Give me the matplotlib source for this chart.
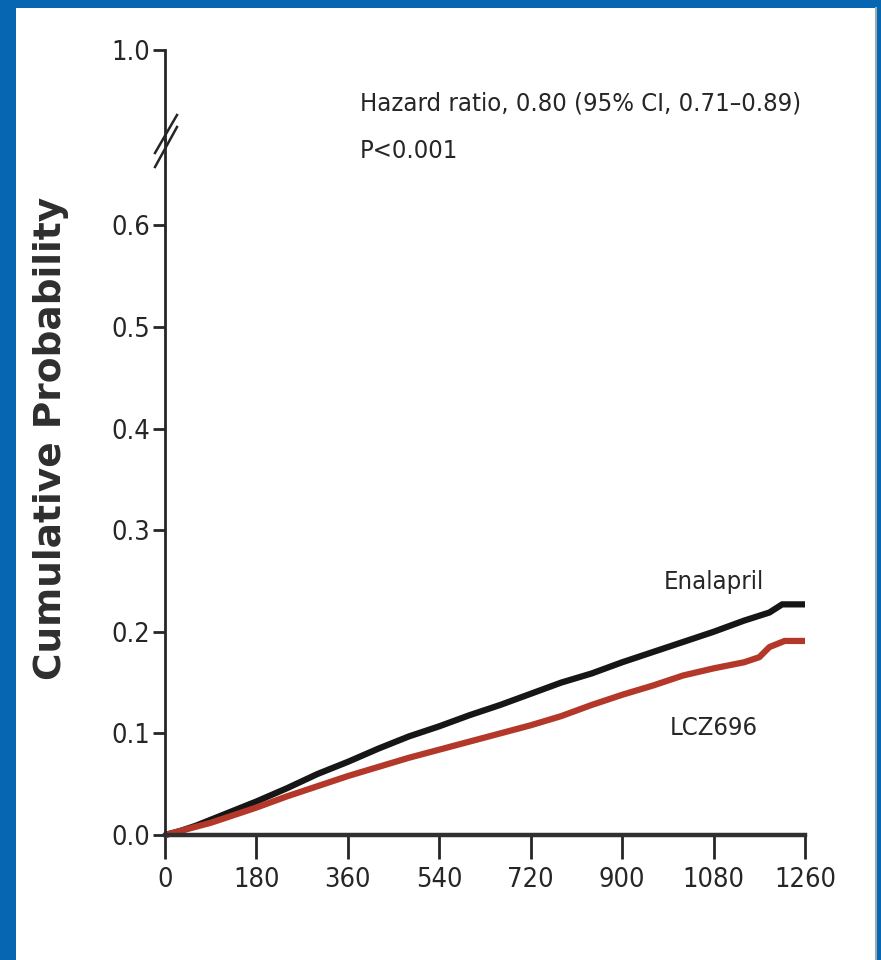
import matplotlib.pyplot as plt
from matplotlib.patches import Rectangle
from matplotlib.lines import Line2D
from matplotlib import font_manager
from matplotlib.font_manager import FontProperties

# Kaplan-Meier style curves
days_enal = [0, 30, 60, 90, 120, 150, 180, 240, 300, 360, 420, 480, 540, 600,
             660, 720, 780, 840, 900, 960, 1020, 1080, 1140, 1190, 1215, 1260]
prob_enal = [0, 0.004, 0.009, 0.015, 0.021, 0.027, 0.033, 0.046, 0.060, 0.072,
             0.085, 0.097, 0.107, 0.118, 0.128, 0.139, 0.150, 0.159, 0.170,
             0.180, 0.190, 0.200, 0.211, 0.219, 0.227, 0.227]

days_lcz = [0, 30, 60, 90, 120, 150, 180, 240, 300, 360, 420, 480, 540, 600,
            660, 720, 780, 840, 900, 960, 1020, 1080, 1140, 1170, 1190, 1220, 1260]
prob_lcz = [0, 0.004, 0.008, 0.012, 0.017, 0.022, 0.027, 0.038, 0.048, 0.058,
            0.067, 0.076, 0.084, 0.092, 0.100, 0.108, 0.117, 0.128, 0.138,
            0.147, 0.157, 0.164, 0.170, 0.175, 0.185, 0.191, 0.191]

xticks = [0, 180, 360, 540, 720, 900, 1080, 1260]
yticks = [0.0, 0.1, 0.2, 0.3, 0.4, 0.5, 0.6]

# look for a condensed face, else fall back to Liberation Sans
narrow = None
for f in font_manager.fontManager.ttflist:
    if 'condensed' in str(f.stretch) and f.style == 'normal' and f.weight in (400, 'normal', 'regular'):
        narrow = FontProperties(fname=f.fname)
        break
if narrow is None:
    narrow = FontProperties(family='Liberation Sans')

ink = '#262626'
W, H = 881, 960

fig = plt.figure(figsize=(W / 100, H / 100), dpi=100, facecolor='#0666b1')
fig.patches.append(Rectangle((16 / W, 0), (875 - 16) / W, (H - 8) / H,
                             transform=fig.transFigure, facecolor='white',
                             edgecolor='none', zorder=-5))
fig.lines.append(Line2D([876 / W, 876 / W], [0, (H - 8) / H], transform=fig.transFigure,
                        color='#a0a8b0', lw=1.5, zorder=-4))

renderer = fig.canvas.get_renderer()


def fit(txt, width_px):
    # scale a text so its drawn width matches the width seen in the picture
    w = txt.get_window_extent(renderer).width
    txt.set_fontsize(txt.get_fontsize() * width_px / w)
    return txt


probe = fit(fig.text(0, 0, '1260', fontproperties=narrow, fontsize=20), 62)
tick_size = probe.get_fontsize()
probe.remove()

ax = fig.add_axes([165 / W, (H - 835) / H, 640 / W, (835 - 140) / H])
ax_top = fig.add_axes([165 / W, (H - 140) / H, 640 / W, (140 - 50) / H])

ax.plot(days_enal, prob_enal, color='#161616', lw=4.5, solid_capstyle='butt', clip_on=False)
ax.plot(days_lcz, prob_lcz, color='#b3382a', lw=4.5, solid_capstyle='butt', clip_on=False)

ax.set_xlim(0, 1260)
ax.set_ylim(0, (835 - 140) / 1016)
ax.set_xticks(xticks)
ax.set_yticks(yticks)
ax.set_yticklabels([f'{v:.1f}' for v in yticks])
for a in (ax, ax_top):
    a.set_facecolor('none')
    a.spines['top'].set_visible(False)
    a.spines['right'].set_visible(False)
    a.spines['left'].set_linewidth(2)
    a.spines['left'].set_color(ink)
ax.spines['bottom'].set_linewidth(3.2)
ax.spines['bottom'].set_color('#303030')
ax.tick_params(axis='y', length=9, width=2, pad=2, colors=ink)
ax.tick_params(axis='x', length=17, width=2, pad=6, colors=ink)
for lab in ax.get_xticklabels() + ax.get_yticklabels():
    lab.set_fontproperties(narrow)
    lab.set_fontsize(tick_size)

ax_top.spines['bottom'].set_visible(False)
ax_top.set_xlim(0, 1260)
ax_top.set_ylim(0.9, 1.0)
ax_top.set_xticks([])
ax_top.set_yticks([1.0])
ax_top.set_yticklabels(['1.0'])
ax_top.tick_params(axis='y', length=9, width=2, pad=2, colors=ink)
for lab in ax_top.get_yticklabels():
    lab.set_fontproperties(narrow)
    lab.set_fontsize(tick_size)

# break marks on the y axis
for y0, y1 in [(153, 115), (167, 127)]:
    fig.lines.append(Line2D([155 / W, 177 / W], [1 - y0 / H, 1 - y1 / H],
                            transform=fig.transFigure, color=ink, lw=1.8))

fig.text(51 / W, 1 - 438 / H, 'Cumulative Probability', rotation=90,
         ha='center', va='center', fontsize=27, fontweight='bold',
         family='DejaVu Sans', color='#2e2e2e')

hr = fit(fig.text(360 / W, 1 - 104 / H, 'Hazard ratio, 0.80 (95% CI, 0.71\u20130.89)',
                  ha='left', va='center', fontproperties=narrow, fontsize=20,
                  color=ink), 440)
fig.text(360 / W, 1 - 151 / H, 'P<0.001', ha='left', va='center',
         fontproperties=narrow, fontsize=hr.get_fontsize(), color=ink)

ax.text(1081, 0.249, 'Enalapril', ha='center', va='center', fontproperties=narrow,
        fontsize=hr.get_fontsize(), color=ink)
ax.text(1081, 0.105, 'LCZ696', ha='center', va='center', fontproperties=narrow,
        fontsize=hr.get_fontsize(), color=ink)

fig.savefig('out.png', dpi=100, facecolor=fig.get_facecolor())
